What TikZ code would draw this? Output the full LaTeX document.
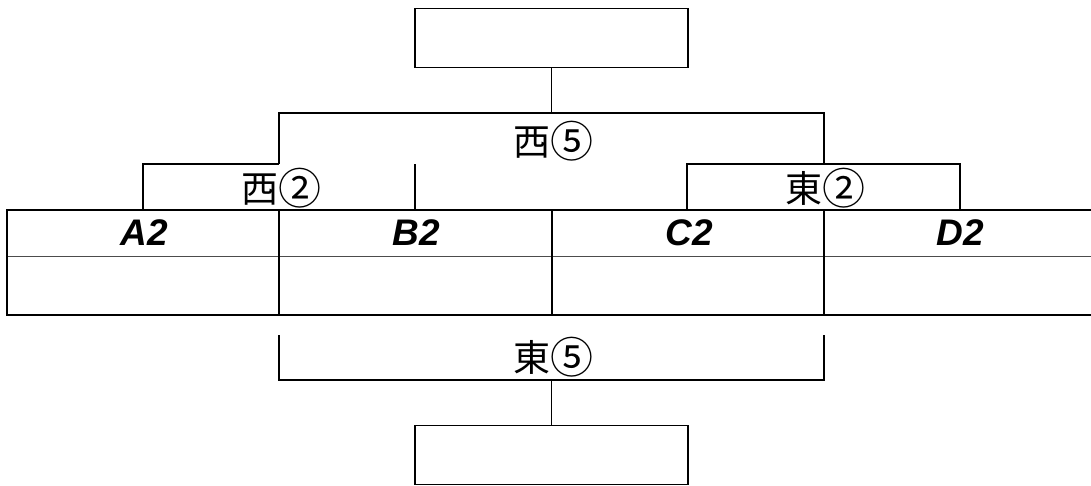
\documentclass[tikz,border=0pt]{standalone}
\usepackage{fontspec}
\setmainfont{Liberation Sans}
\newfontfamily\jpfont{Noto Sans CJK JP}
\usetikzlibrary{positioning}

\newcommand{\bignum}[1]{\raisebox{-2.3pt}{\fontsize{43}{43}\selectfont #1}}

\tikzset{
  box/.style={draw, line width=1.3pt, minimum width=273pt, minimum height=59pt, inner sep=0pt},
  bracket/.style={line width=1.1pt},
  cell/.style={font=\fontsize{37}{37}\selectfont\bfseries\itshape, inner sep=0pt},
  tag/.style={font=\jpfont\fontsize{37}{37}\selectfont, inner sep=0pt},
}

\begin{document}
\begin{tikzpicture}[x=1pt, y=-1pt]
        \useasboundingbox (0,0) rectangle (1091,485);

        % Define table corners and columns
        \coordinate (TL) at (7,210);
        \coordinate (TR) at (1097,210);
        \coordinate (ML) at (7,256);
        \coordinate (MR) at (1097,256);
        \coordinate (BL) at (7,315);
        \coordinate (BR) at (1097,315);

        % Draw boxes
        \node[box] (topbox) at (551.5,38) {};
        \node[box] (botbox) at (551.5,455) {};

        % Draw table
        \draw[line width=0.9pt, gray!60!black] (ML) -- (MR);
        \draw[line width=1.3pt] (279,210) -- (279,315);
        \draw[line width=1.3pt] (552,210) -- (552,315);
        \draw[line width=1.3pt] (824,210) -- (824,315);
        \draw[line width=1.8pt] (TR) -- (TL) -- (BL) -- (BR);

        % Cell labels
        \node[cell] (a2) at (144,233) {A2};
        \node[cell] (b2) at (416,233) {B2};
        \node[cell] (c2) at (689,233) {C2};
        \node[cell] (d2) at (960,233) {D2};

        % Define bracket points
        \coordinate (w5l) at (279,113);
        \coordinate (w5r) at (824,113);
        \coordinate (w5m) at (551.5,113);
        \coordinate (w2a) at (143,164);
        \coordinate (w2b) at (279,164);
        \coordinate (w2c) at (415,164);
        \coordinate (e2a) at (687,164);
        \coordinate (e2b) at (824,164);
        \coordinate (e2c) at (960,164);
        \coordinate (e5l) at (279,380);
        \coordinate (e5r) at (824,380);
        \coordinate (e5m) at (551.5,380);

        % Draw west brackets
        \draw[bracket] (topbox.south) -- (w5m);
        \draw[bracket] (w2b) -- (w5l) -- (w5r) -- (e2b);
        \node[tag] (west5) at (553,141) {西\bignum{⑤}};
        \draw[bracket] (w2a |- TL) -- (w2a) -- (w2b);
        \draw[bracket] (w2c) -- (w2c |- TL);
        \node[tag] (west2) at (281,188) {西\bignum{②}};

        % Draw east brackets
        \draw[bracket] (e2a |- TL) -- (e2a) -- (e2c) -- (e2c |- TL);
        \node[tag] (east2) at (825,188) {東\bignum{②}};
        \draw[bracket] (279,335) -- (e5l) -- (e5r) -- (824,335);
        \draw[bracket] (e5m) -- (botbox.north);
        \node[tag] (east5) at (553,357) {東\bignum{⑤}};
\end{tikzpicture}
\end{document}
